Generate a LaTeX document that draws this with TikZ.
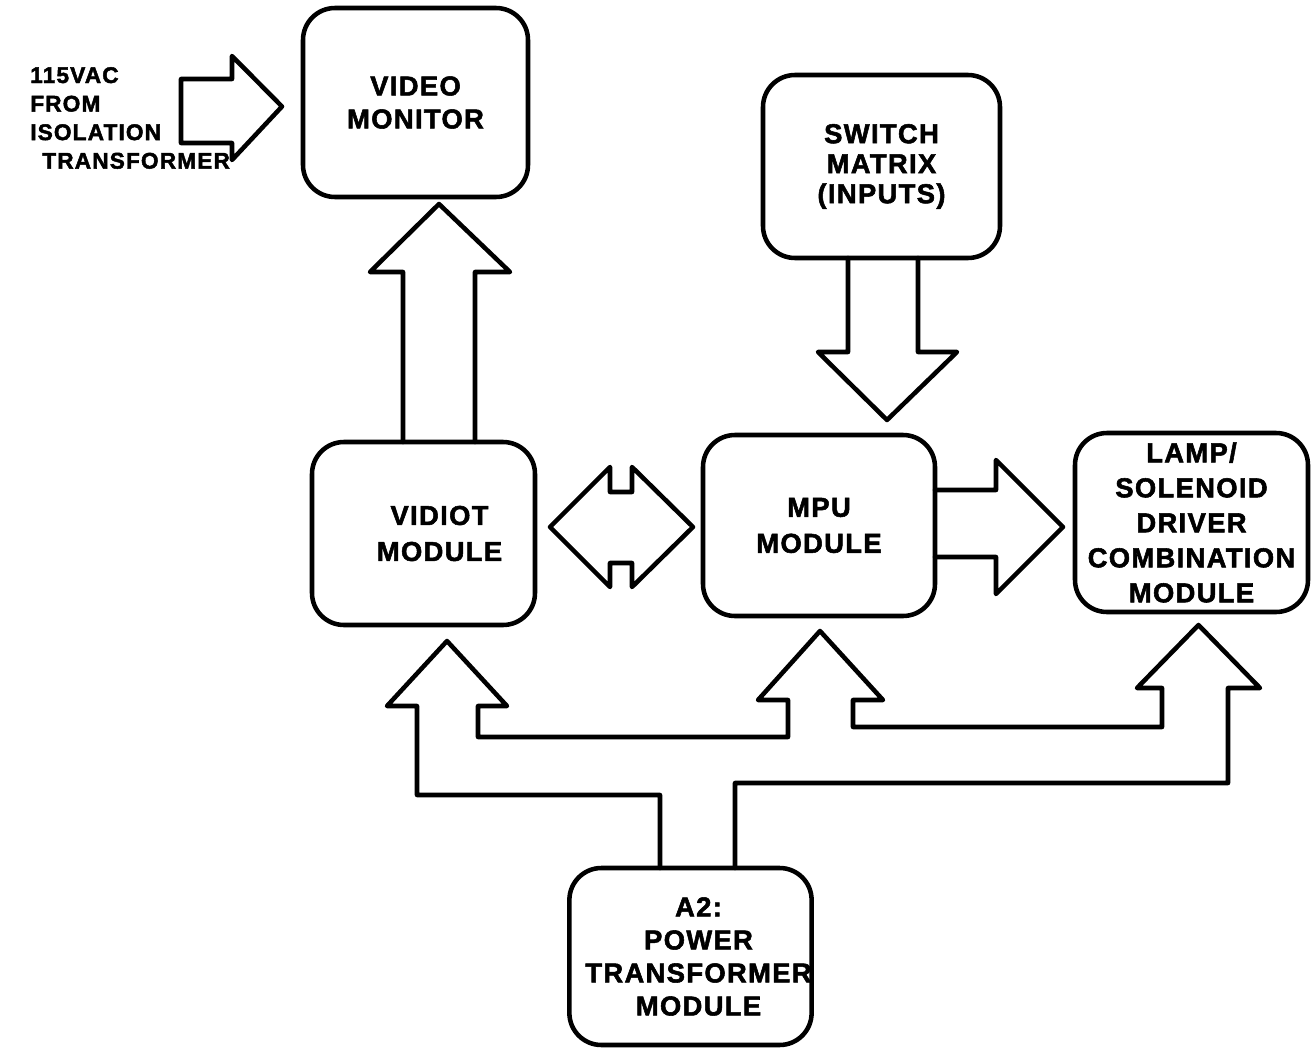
\documentclass[tikz,border=0pt]{standalone}
\usepackage{fontspec}
\setmainfont{Liberation Sans}[LetterSpace=5, BoldFeatures={FakeBold=2}]
\usetikzlibrary{calc}
\begin{document}
\begin{tikzpicture}[x=0.75pt,y=-0.75pt,
  box/.style={draw, line width=3.4pt, rounded corners=24pt, inner sep=0pt, outer sep=0pt, align=center},
  blk/.style={draw, line width=3.4pt, line join=round, line cap=round},
  lbl/.style={font=\fontsize{20.5}{#1}\selectfont\bfseries}]
\fill[white] (0,0) rectangle (1315,1050);
\useasboundingbox (0,0) rectangle (1315,1050);

% boxes
\node[box, lbl=24.75pt, minimum width=168.75pt, minimum height=141.75pt] (mon) at (415.5,102.5) {VIDEO\\MONITOR};
\node[box, lbl=22.5pt, minimum width=177.75pt, minimum height=137.25pt] (sw) at (881.5,166.5) {SWITCH\\MATRIX\\(INPUTS)};
\node[box, lbl=27pt, minimum width=167.25pt, minimum height=137.25pt] (vid) at (423.5,533.5) {\hspace*{24pt}VIDIOT\\\hspace*{24pt}MODULE};
\node[box, lbl=27pt, minimum width=174pt, minimum height=135.75pt] (mpu) at (819,525.5) {MPU\\MODULE};
\node[box, lbl=26.25pt, minimum width=174.75pt, minimum height=134.25pt] (lamp) at (1191.5,522.5) {LAMP/\\SOLENOID\\DRIVER\\COMBINATION\\MODULE};
\node[box, lbl=24.75pt, minimum width=180.75pt, minimum height=132.75pt] (a2) at (690.5,956.5) {\hspace*{12pt}A2:\\\hspace*{12pt}POWER\\\hspace*{12pt}TRANSFORMER\\\hspace*{12pt}MODULE};

% input label
\node[anchor=west, align=left, inner sep=0pt, font=\fontsize{17}{21.4pt}\selectfont\bfseries] (acin) at (30,118) {115VAC\\FROM\\ISOLATION\\\hspace*{9pt}TRANSFORMER};

% 115 VAC arrow
\draw[blk] (181,79) -- (232,79) -- (232,56) -- ($(mon.west)+(-21,4)$) -- (232,160) -- (232,143) -- (181,143) -- cycle;

% vidiot -> video monitor
\draw[blk] (403,0 |- vid.north) -- (403,272) -- (370,272) -- ($(mon.south)+(23.5,7)$) -- (510,272) -- (475,272) -- (475,0 |- vid.north);

% switch matrix -> mpu
\draw[blk] (848,0 |- sw.south) -- (848,352) -- (818,352) -- ($(mpu.north)+(68,-15)$) -- (957,352) -- (918,352) -- (918,0 |- sw.south);

% vidiot <-> mpu
\draw[blk] ($(vid.east)+(15,-6.5)$) -- (610,467) -- (610,492) -- (632,492) -- (632,467) -- ($(mpu.west)+(-10,1.5)$) -- (632,587) -- (632,563) -- (610,563) -- (610,587) -- cycle;

% mpu -> lamp
\draw[blk] (mpu.east |- 0,490) -- (996,490) -- (996,460) -- ($(lamp.west)+(-12,4.5)$) -- (996,594) -- (996,557) -- (mpu.east |- 0,557);

% power bus
\draw[blk] (660,0 |- a2.north) -- (660,795) -- (417,795) -- (417,706) -- (387,706)
  -- ($(vid.south)+(23.5,16)$) -- (507,706) -- (478,706) -- (478,737) -- (788,737)
  -- (788,700) -- (758,700) -- ($(mpu.south)+(1,15)$) -- (883,700) -- (853,700)
  -- (853,727) -- (1162,727) -- (1162,688) -- (1137,688) -- ($(lamp.south)+(7,13)$)
  -- (1260,688) -- (1228,688) -- (1228,783) -- (735,783) -- (735,0 |- a2.north);
\end{tikzpicture}
\end{document}
